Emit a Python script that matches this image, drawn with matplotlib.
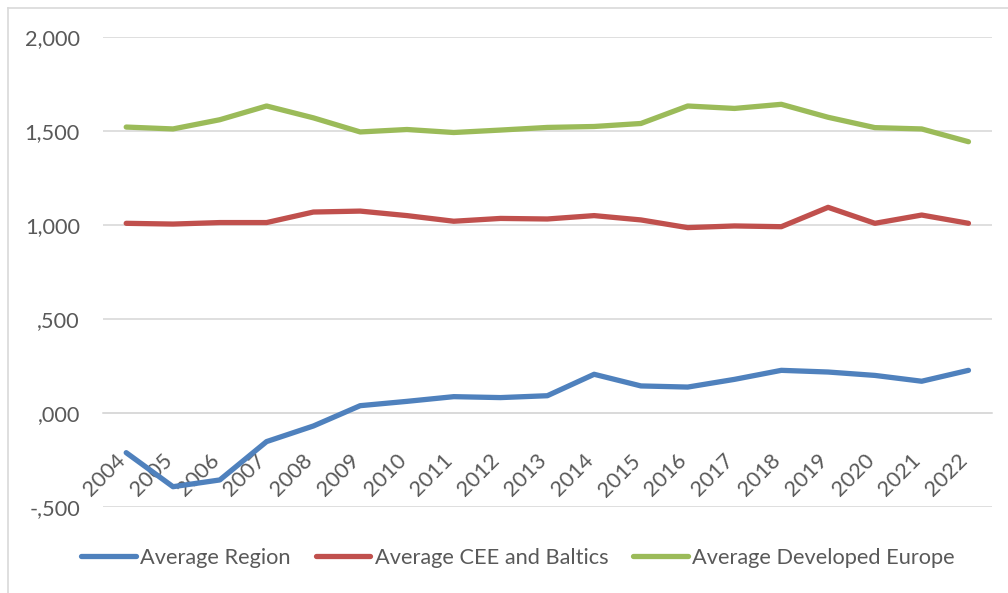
import matplotlib
matplotlib.use("Agg")
import matplotlib.pyplot as plt
from matplotlib.ticker import FuncFormatter, FixedLocator
from matplotlib.lines import Line2D
from matplotlib.transforms import ScaledTranslation

years = [str(y) for y in range(2004, 2023)]
avg_region = [-0.211, -0.392, -0.356, -0.152, -0.069, 0.039, 0.062, 0.087, 0.082, 0.092,
              0.206, 0.144, 0.138, 0.179, 0.227, 0.218, 0.200, 0.169, 0.227]
avg_cee_baltics = [1.009, 1.005, 1.013, 1.013, 1.069, 1.074, 1.050, 1.020, 1.035, 1.032,
                   1.050, 1.027, 0.986, 0.995, 0.991, 1.094, 1.009, 1.053, 1.009]
avg_dev_europe = [1.521, 1.511, 1.560, 1.633, 1.570, 1.495, 1.508, 1.492, 1.505, 1.519,
                  1.524, 1.540, 1.633, 1.620, 1.642, 1.573, 1.518, 1.511, 1.443]
y_ticks = [-0.5, 0.0, 0.5, 1.0, 1.5, 2.0]

plt.rcParams['font.family'] = ['Lato', 'DejaVu Sans']
text_color = '#595959'
grid_color = '#D9D9D9'
fsize = 15.7

fig = plt.figure(figsize=(10.08, 5.93), dpi=100)
ax = fig.add_axes([0.102, 0.145, 0.882, 0.7926])

x = list(range(len(years)))
ax.plot(x, avg_region, color='#4F81BD', lw=3.8, solid_capstyle='round',
        solid_joinstyle='round', label='Average Region', zorder=3)
ax.plot(x, avg_cee_baltics, color='#C0504D', lw=3.8, solid_capstyle='round',
        solid_joinstyle='round', label='Average CEE and Baltics', zorder=3)
ax.plot(x, avg_dev_europe, color='#9BBB59', lw=3.8, solid_capstyle='round',
        solid_joinstyle='round', label='Average Developed Europe', zorder=3)

ax.set_xlim(-0.5, len(years) - 0.5)
ax.set_ylim(-0.5, 2.0)


def fmt(v, pos):
    s = f"{abs(v):.3f}".replace('.', ',')
    if s.startswith('0'):
        s = s[1:]
    return ('-' if v < 0 else '') + s


ax.yaxis.set_major_locator(FixedLocator(y_ticks))
ax.yaxis.set_major_formatter(FuncFormatter(fmt))
ax.tick_params(axis='y', length=0, pad=16.5, labelsize=fsize, labelcolor=text_color)
ax.grid(axis='y', color=grid_color, lw=1.2, zorder=0)
ax.set_axisbelow(True)

# category axis sits on the zero line
for side in ['left', 'right', 'top']:
    ax.spines[side].set_visible(False)
ax.spines['bottom'].set_position(('data', 0.0))
ax.spines['bottom'].set_color(grid_color)
ax.spines['bottom'].set_linewidth(1.2)
ax.set_xticks(x)
ax.set_xticklabels(years)
ax.tick_params(axis='x', length=0, pad=27, labelsize=fsize, labelcolor=text_color)
shift = ScaledTranslation(-11 / 100, 0, fig.dpi_scale_trans)
for lbl in ax.get_xticklabels():
    lbl.set_rotation(45)
    lbl.set_ha('right')
    lbl.set_va('top')
    lbl.set_rotation_mode('anchor')
    lbl.set_transform(lbl.get_transform() + shift)

leg = fig.legend(loc='center', bbox_to_anchor=(0.514, 0.059), ncol=3, frameon=False,
                 fontsize=fsize, handlelength=2.5, handletextpad=0.2, columnspacing=1.15)
for t in leg.get_texts():
    t.set_color(text_color)

# chart frame
fig.add_artist(Line2D([0.008, 0.008], [0.0, 0.987], transform=fig.transFigure,
                      color=grid_color, lw=1.2))
fig.add_artist(Line2D([0.008, 1.0], [0.987, 0.987], transform=fig.transFigure,
                      color=grid_color, lw=1.2))

fig.savefig('out.png', dpi=100)
